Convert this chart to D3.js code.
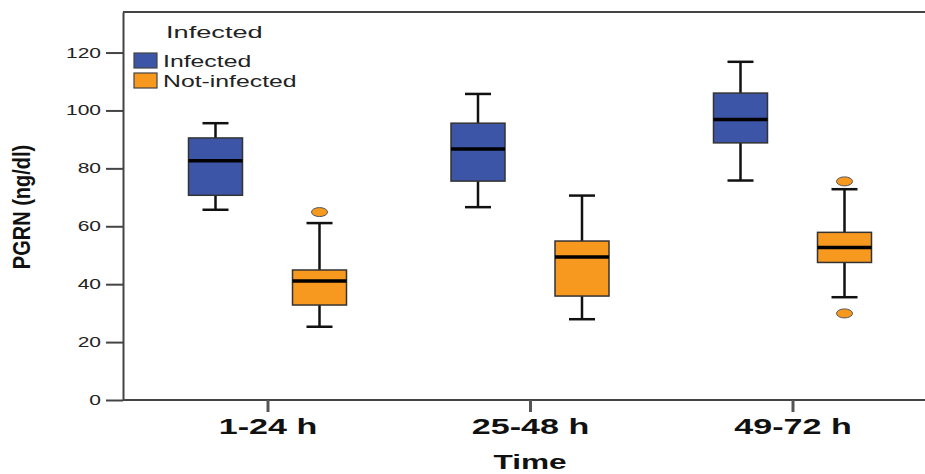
<!DOCTYPE html>
<html>
<head>
<meta charset="utf-8">
<script src="https://cdn.jsdelivr.net/npm/d3@7"></script>
<style>
  body { margin: 0; background: #fff; }
  svg { display: block; font-family: "Liberation Sans", Arial, sans-serif; }
</style>
</head>
<body>
<div class="chart"></div>
<script>
// data
var times = ["1-24 h", "25-48 h", "49-72 h"];
var groups = ["Infected", "Not-infected"];
var colors = ["#3d55a7", "#f7991f"];
// [whisker low, q1, median, q3, whisker high]
var infected    = [[65.7, 70.7, 82.6, 90.5, 95.6], [66.6, 75.6, 86.7, 95.6, 105.7], [75.8, 88.8, 96.9, 106.0, 116.8]];
var notInfected = [[25.3, 32.8, 41.1, 44.9, 61.1], [27.9, 35.9, 49.4, 54.9, 70.6], [35.5, 47.5, 52.7, 57.9, 72.8]];
var outliers = [
  {group: "Not-infected", time: "1-24 h", value: 64.9},
  {group: "Not-infected", time: "49-72 h", value: 75.5},
  {group: "Not-infected", time: "49-72 h", value: 29.9}
];
var yTicks = [0, 20, 40, 60, 80, 100, 120];

var w = 925, h = 474;
var sx = 1.55; // the picture's text is stretched sideways

var svg = d3.select(".chart").append("svg")
  .attr("width", w).attr("height", h);

var y = d3.scaleLinear().domain([0, 134]).range([400, 12]);
var x = d3.scalePoint().domain(times).range([267.5, 792.5]);
var xg = d3.scalePoint().domain(groups).range([-52, 52]);
var color = d3.scaleOrdinal().domain(groups).range(colors);

var boxes = [];
times.forEach(function(t, i) {
  boxes.push({group: "Infected", time: t, s: infected[i]});
  boxes.push({group: "Not-infected", time: t, s: notInfected[i]});
});

// frame lines
svg.append("line").attr("x1", 123).attr("x2", w).attr("y1", y(134)).attr("y2", y(134))
  .attr("stroke", "#444").attr("stroke-width", 2);

// y axis
var yAxis = svg.append("g").attr("transform", "translate(123,0)")
  .call(d3.axisLeft(y).tickValues(yTicks).tickSize(17).tickSizeOuter(0));
yAxis.select(".domain").attr("stroke", "#444").attr("stroke-width", 2);
yAxis.selectAll(".tick line").attr("stroke", "#444").attr("stroke-width", 2);
yAxis.selectAll(".tick text")
  .attr("x", -22 / 1.5).attr("transform", "scale(1.5,1)")
  .attr("font-size", 14).attr("fill", "#222")
  .attr("font-family", "Liberation Sans, Arial, sans-serif");

// x axis
var xAxis = svg.append("g").attr("transform", "translate(0,400)")
  .call(d3.axisBottom(x).tickSize(12).tickSizeOuter(0));
xAxis.select(".domain").attr("d", "M123,0H" + w).attr("stroke", "#444").attr("stroke-width", 2);
xAxis.selectAll(".tick line").attr("stroke", "#555").attr("stroke-width", 3);
xAxis.selectAll(".tick text")
  .attr("y", 34).attr("dy", 0).attr("transform", "scale(" + sx + ",1)")
  .attr("font-size", 22).attr("font-weight", "bold").attr("fill", "#111")
  .attr("font-family", "Liberation Sans, Arial, sans-serif");

// axis titles
svg.append("text").attr("transform", "translate(530,469) scale(1.58,1)")
  .attr("text-anchor", "middle").attr("font-size", 20).attr("font-weight", "bold")
  .attr("fill", "#111").text("Time");
svg.append("text").attr("transform", "translate(30,207) scale(1.2,1) rotate(-90)")
  .attr("text-anchor", "middle").attr("font-size", 20).attr("font-weight", "bold")
  .attr("fill", "#111").text("PGRN (ng/dl)");

// boxes
var bw = 54, cap = 26;
var b = svg.selectAll(".box").data(boxes).enter().append("g")
  .attr("class", "box")
  .attr("transform", function(d) { return "translate(" + (x(d.time) + xg(d.group)) + ",0)"; });
b.append("line").attr("x1", 0).attr("x2", 0)
  .attr("y1", function(d) { return y(d.s[0]); }).attr("y2", function(d) { return y(d.s[1]); })
  .attr("stroke", "#111").attr("stroke-width", 2.5);
b.append("line").attr("x1", 0).attr("x2", 0)
  .attr("y1", function(d) { return y(d.s[3]); }).attr("y2", function(d) { return y(d.s[4]); })
  .attr("stroke", "#111").attr("stroke-width", 2.5);
b.append("line").attr("x1", -cap / 2).attr("x2", cap / 2)
  .attr("y1", function(d) { return y(d.s[0]); }).attr("y2", function(d) { return y(d.s[0]); })
  .attr("stroke", "#111").attr("stroke-width", 2.5);
b.append("line").attr("x1", -cap / 2).attr("x2", cap / 2)
  .attr("y1", function(d) { return y(d.s[4]); }).attr("y2", function(d) { return y(d.s[4]); })
  .attr("stroke", "#111").attr("stroke-width", 2.5);
b.append("rect").attr("x", -bw / 2).attr("width", bw)
  .attr("y", function(d) { return y(d.s[3]); })
  .attr("height", function(d) { return y(d.s[1]) - y(d.s[3]); })
  .attr("fill", function(d) { return color(d.group); })
  .attr("stroke", "#333").attr("stroke-width", 1.5);
b.append("line").attr("x1", -bw / 2).attr("x2", bw / 2)
  .attr("y1", function(d) { return y(d.s[2]); }).attr("y2", function(d) { return y(d.s[2]); })
  .attr("stroke", "#000").attr("stroke-width", 3.5);

// outliers
svg.selectAll(".out").data(outliers).enter().append("ellipse")
  .attr("class", "out")
  .attr("cx", function(d) { return x(d.time) + xg(d.group); })
  .attr("cy", function(d) { return y(d.value); })
  .attr("rx", 8).attr("ry", 4.5)
  .attr("fill", function(d) { return color(d.group); })
  .attr("stroke", "#555").attr("stroke-width", 1);

// legend
var lg = svg.append("g");
lg.append("text").attr("transform", "translate(166,38) scale(1.6,1)")
  .attr("font-size", 17).attr("fill", "#222").text("Infected");
var li = lg.selectAll(".li").data(groups).enter().append("g")
  .attr("transform", function(d, i) { return "translate(134," + (53 + i * 20) + ")"; });
li.append("rect").attr("width", 23).attr("height", 15)
  .attr("fill", function(d) { return color(d); })
  .attr("stroke", "#444").attr("stroke-width", 1.2);
li.append("text").attr("transform", "translate(29,14) scale(" + sx + ",1)")
  .attr("font-size", 16).attr("fill", "#222").text(function(d) { return d; });
</script>
</body>
</html>
